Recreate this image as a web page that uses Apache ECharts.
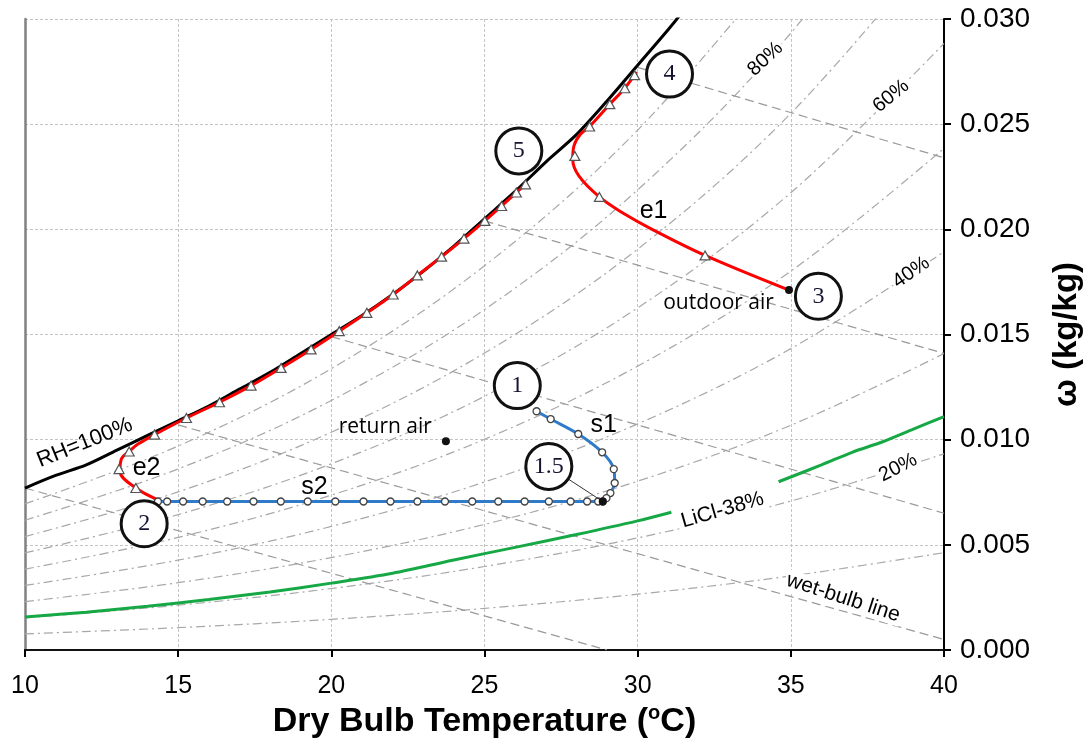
<!DOCTYPE html>
<html><head><meta charset="utf-8">
<script src="https://cdn.jsdelivr.net/npm/echarts@6/dist/echarts.min.js"></script>
<style>html,body{margin:0;padding:0;background:#fff}#c{width:1091px;height:748px}</style>
</head><body><div id="c"></div>
<script>
// ---------------- data ----------------
const xTickValues = [10, 15, 20, 25, 30, 35, 40];
const yTickLabels = ['0.000','0.005','0.010','0.015','0.020','0.025','0.030'];

// relative humidity lines (dash-dot), humidity ratio at rhTemps
const rhTemps = [10, 15, 20, 25, 30, 35, 40];
const rh10 = [0.000765, 0.001063, 0.001458, 0.001978, 0.002653, 0.003521, 0.004628];
const rh20 = [0.001531, 0.002130, 0.002923, 0.003969, 0.005329, 0.007082, 0.009325];
const rh30 = [0.002300, 0.003200, 0.004395, 0.005972, 0.008027, 0.010684, 0.014093];
const rh40 = [0.003070, 0.004274, 0.005874, 0.007988, 0.010749, 0.014328, 0.018933];
const rh50 = [0.003843, 0.005351, 0.007360, 0.010017, 0.013495, 0.018013, 0.023848];
const rh60 = [0.004617, 0.006433, 0.008853, 0.012060, 0.016264, 0.021742, 0.028839];
const rh70 = [0.005393, 0.007518, 0.010354, 0.014116, 0.019058, 0.025514, 0.033907];
const rh80 = [0.006171, 0.008607, 0.011861, 0.016184, 0.021876, 0.029331, 0.039055];
const rh90 = [0.006950, 0.009697, 0.013375, 0.018267, 0.024718, 0.033192];

// wet-bulb lines (dashed): [start T, start w, end T, end w]
const wb10 = [10, 0.0077, 29.0, 0.0];
const wb15 = [15, 0.0107, 40, 0.0005];
const wb20 = [20, 0.0149, 40, 0.0065];
const wb25 = [25, 0.0204, 40, 0.0141];
const wb30 = [30, 0.0277, 40, 0.0234];

// saturation curve RH=100%
const satT = [10, 11, 12, 13, 14, 15, 16, 17, 18, 19, 20, 21, 22, 23, 24, 25, 26, 27, 28, 29, 30, 31, 31.5];
const satW = [0.0077, 0.0083, 0.0088, 0.0095, 0.0102, 0.0109, 0.0116, 0.0124, 0.0132, 0.0141, 0.0150, 0.0159, 0.0169, 0.0180, 0.0192, 0.0205, 0.0218, 0.0232, 0.0245, 0.0261, 0.0278, 0.0295, 0.0304];

// LiCl-38% equilibrium line (gap where its label sits)
const liclT = [10, 12, 14, 16, 18, 20, 22, 24, 26, 28, 30, 31.1, null, 34.6, 36, 37, 38, 39, 40];
const liclW = [0.00157, 0.00180, 0.00208, 0.00240, 0.00276, 0.00318, 0.00365, 0.00428, 0.00488, 0.00549, 0.00614, 0.00655, null, 0.0080, 0.0088, 0.0094, 0.0099, 0.0105, 0.0111];

// process e2 (state 2 -> along saturation -> state 5)
const e2T = [14.34, 13.62, 13.1, 13.15, 13.4, 13.7, 14.23, 15.27, 16.35, 17.38, 18.36, 19.34, 20.26, 21.16, 22.02, 22.81, 23.6, 24.33, 25.01, 25.56, 26.04, 26.34];
const e2W = [0.00714, 0.0077, 0.0085, 0.0091, 0.00944, 0.0098, 0.01024, 0.01103, 0.01178, 0.01257, 0.01341, 0.01429, 0.01516, 0.01603, 0.0169, 0.01781, 0.0187, 0.01956, 0.0204, 0.02111, 0.02175, 0.02214];
const e2MarkT = [13.62, 13.07, 13.4, 14.23, 15.27, 16.35, 17.38, 18.36, 19.34, 20.26, 21.16, 22.02, 22.81, 23.6, 24.33, 25.01, 25.56, 26.04, 26.34];
const e2MarkW = [0.0077, 0.0086, 0.00944, 0.01024, 0.01103, 0.01178, 0.01257, 0.01341, 0.01429, 0.01516, 0.01603, 0.0169, 0.01781, 0.0187, 0.01956, 0.0204, 0.02111, 0.02175, 0.02214];

// process e1 (state 3 -> state 4)
const e1T = [34.94, 32.2, 30.47, 29.49, 28.75, 28.08, 27.88, 27.92, 28.13, 28.43, 29.09, 29.58, 29.9, 29.97];
const e1W = [0.01711, 0.01876, 0.0200, 0.0208, 0.02154, 0.02254, 0.02333, 0.02397, 0.02452, 0.02489, 0.02595, 0.02671, 0.02733, 0.02748];
const e1MarkT = [32.2, 28.75, 27.95, 28.43, 29.09, 29.58, 29.9];
const e1MarkW = [0.01876, 0.02154, 0.02349, 0.02489, 0.02595, 0.02671, 0.02733];

// process s1 (state 1 -> state 1.5) and s2 (state 1.5 -> state 2)
const s1T = [26.7, 27.16, 28.06, 28.84, 29.22, 29.25, 29.11, 28.98, 28.86];
const s1W = [0.01135, 0.01098, 0.01027, 0.0094, 0.0086, 0.00794, 0.00746, 0.00722, 0.00706];
const s2T = [28.71, 28.35, 27.81, 27.10, 26.31, 25.45, 24.6, 23.71, 22.81, 21.93, 21.05, 20.13, 19.23, 18.35, 17.46, 16.6, 15.8, 15.16, 14.64, 14.34];
const s2W = [0.00706, 0.00706, 0.00706, 0.00706, 0.00706, 0.00706, 0.00706, 0.00706, 0.00706, 0.00706, 0.00706, 0.00706, 0.00706, 0.00706, 0.00706, 0.00706, 0.00706, 0.00706, 0.00706, 0.00706];

// state points
const dotNames = ['outdoor', 'return', 'state1.5'];
const dotT = [34.94, 23.74, 28.86];
const dotW = [0.01711, 0.00992, 0.00706];

// numbered state callouts
const stateNames = ['1', '1.5', '2', '3', '4', '5'];
const stateT = [26.07, 27.10, 13.89, 35.90, 31.04, 26.12];
const stateW = [0.01257, 0.00873, 0.0060, 0.01682, 0.02738, 0.02373];

// text annotations
const noteTexts = ['outdoor air', 'return air', 'e1', 'e2', 's1', 's2', 'RH=100%', '80%', '60%', '40%', '20%', 'LiCl-38%', 'wet-bulb line'];
const noteT = [32.64, 21.76, 30.52, 13.97, 28.89, 19.45, 11.95, 34.17, 38.27, 38.93, 38.5, 32.77, 36.71];
const noteW = [0.01652, 0.01062, 0.02086, 0.00867, 0.01071, 0.00776, 0.00985, 0.0281, 0.02633, 0.01795, 0.00867, 0.00665, 0.00248];

// ---------------- chart ----------------
const zip = (xs, ys) => xs.map((x, i) => (x === null ? '-' : [x, ys[i]]));
const styles = {
  dashDot: { type: [9, 4, 2, 4], color: '#a8a8a8', width: 1.2 },
  dashed: { type: [9, 5], color: '#9a9a9a', width: 1.2 }
};
const noteStyle = {
  'outdoor air': { fontFamily: 'Open Sans', fontSize: 21, rotate: 0, bg: false },
  'return air': { fontFamily: 'Open Sans', fontSize: 21, rotate: 0, bg: false },
  'e1': { fontFamily: 'Liberation Sans', fontSize: 25, rotate: 0, bg: false },
  'e2': { fontFamily: 'Liberation Sans', fontSize: 25, rotate: 0, bg: false },
  's1': { fontFamily: 'Liberation Sans', fontSize: 25, rotate: 0, bg: false },
  's2': { fontFamily: 'Liberation Sans', fontSize: 25, rotate: 0, bg: false },
  'RH=100%': { fontFamily: 'Liberation Sans', fontSize: 22, rotate: 22, bg: false },
  '80%': { fontFamily: 'Liberation Sans', fontSize: 20, rotate: 43, bg: true },
  '60%': { fontFamily: 'Liberation Sans', fontSize: 20, rotate: 39, bg: true },
  '40%': { fontFamily: 'Liberation Sans', fontSize: 20, rotate: 35, bg: true },
  '20%': { fontFamily: 'Liberation Sans', fontSize: 20, rotate: 27, bg: true },
  'LiCl-38%': { fontFamily: 'Liberation Sans', fontSize: 21, rotate: 16, bg: true },
  'wet-bulb line': { fontFamily: 'Liberation Sans', fontSize: 21, rotate: -18, bg: true }
};

const series = [];
[rh10, rh20, rh30, rh40, rh50, rh60, rh70, rh80, rh90].forEach((arr, k) => {
  series.push({ type: 'line', name: 'rh' + (k + 1) * 10, data: zip(rhTemps.slice(0, arr.length), arr),
    smooth: 0.35, showSymbol: false, symbol: 'none', lineStyle: styles.dashDot, z: 1, silent: true });
});
[wb10, wb15, wb20, wb25, wb30].forEach((w, k) => {
  series.push({ type: 'line', name: 'wb' + k, data: [[w[0], w[1]], [w[2], w[3]]],
    symbol: 'none', lineStyle: styles.dashed, z: 1, silent: true });
});
series.push({ type: 'line', name: 'LiCl', data: zip(liclT, liclW), smooth: 0.3, symbol: 'none',
  connectNulls: false, lineStyle: { color: '#17a846', width: 3 }, z: 2 });
series.push({ type: 'line', name: 'sat', data: zip(satT, satW), smooth: 0.3, symbol: 'none',
  lineStyle: { color: '#000', width: 3 }, z: 3 });
series.push({ type: 'line', name: 'e2', data: zip(e2T, e2W), smooth: 0.35, symbol: 'none',
  lineStyle: { color: '#ff0000', width: 3 }, z: 4 });
series.push({ type: 'line', name: 'e1', data: zip(e1T, e1W), smooth: 0.35, symbol: 'none',
  lineStyle: { color: '#ff0000', width: 3 }, z: 4 });
series.push({ type: 'line', name: 's', data: zip(s1T.concat(s2T), s1W.concat(s2W)), smooth: 0.3, symbol: 'none',
  lineStyle: { color: '#2f7bc9', width: 3 }, z: 4 });
series.push({ type: 'scatter', name: 'triangles', data: zip(e2MarkT.concat(e1MarkT), e2MarkW.concat(e1MarkW)),
  symbol: 'triangle', symbolSize: [10, 9], itemStyle: { color: '#fff', borderColor: '#555', borderWidth: 1.2, opacity: 1 }, z: 5 });
series.push({ type: 'scatter', name: 'circles', data: zip(s1T.concat(s2T), s1W.concat(s2W)),
  symbol: 'circle', symbolSize: 7, itemStyle: { color: '#fff', borderColor: '#444', borderWidth: 1.3, opacity: 1 }, z: 5 });
series.push({ type: 'line', name: 'leader', data: [[stateT[1], stateW[1]], [dotT[2], dotW[2]]], symbol: 'none',
  lineStyle: { color: '#333', width: 1 }, z: 6 });
series.push({ type: 'scatter', name: 'dots', data: zip(dotT, dotW), symbol: 'circle', symbolSize: 8,
  itemStyle: { color: '#111', opacity: 1 }, z: 6 });
series.push({ type: 'scatter', name: 'states', data: stateNames.map((n, i) => ({ name: n, value: [stateT[i], stateW[i]] })),
  symbol: 'circle', symbolSize: 46, itemStyle: { color: '#fff', borderColor: '#111', borderWidth: 3, opacity: 1 },
  label: { show: true, position: 'inside', formatter: '{b}', fontFamily: 'Liberation Serif', fontSize: 24, color: '#141430' }, z: 7 });
series.push({ type: 'scatter', name: 'notes', symbolSize: 1, itemStyle: { color: 'rgba(0,0,0,0)', opacity: 1 }, z: 8,
  data: noteTexts.map((t, i) => {
    const s = noteStyle[t];
    return { name: t, value: [noteT[i], noteW[i]],
      label: { show: true, position: 'inside', formatter: '{b}', rotate: s.rotate, fontFamily: s.fontFamily,
        fontSize: s.fontSize, color: '#000', opacity: 1, backgroundColor: s.bg ? '#fff' : 'transparent', padding: s.bg ? [0, 2] : 0 } };
  }) });

const gridLine = { show: true, lineStyle: { color: '#c4c4c4', type: [3, 2], width: 1 } };
const option = {
  animation: false,
  backgroundColor: '#fff',
  grid: { left: 25, right: 145, top: 19, bottom: 98, containLabel: false },
  xAxis: [
    { type: 'value', min: 10, max: 40, interval: 5, position: 'bottom',
      axisLine: { lineStyle: { color: '#000', width: 2 } },
      axisTick: { show: true, length: 7, inside: false, lineStyle: { color: '#000', width: 2 } },
      axisLabel: { fontFamily: 'Liberation Sans', fontSize: 25, color: '#000', margin: 24,
        formatter: v => (xTickValues.indexOf(v) >= 0 ? String(v) : '') },
      splitLine: gridLine,
      name: '{a|Dry Bulb Temperature (}{s|o}{a|C)}', nameLocation: 'middle', nameGap: 52,
      nameTextStyle: { rich: {
        a: { fontFamily: 'Liberation Sans', fontWeight: 'bold', fontSize: 34, color: '#000' },
        s: { fontFamily: 'Liberation Sans', fontWeight: 'bold', fontSize: 20, color: '#000', verticalAlign: 'top', padding: [0, 0, 16, 0] } } } },
    { type: 'value', min: 10, max: 40, interval: 5, position: 'top',
      axisLine: { lineStyle: { color: '#111', width: 2 } }, axisTick: { show: false },
      axisLabel: { show: false }, splitLine: { show: false } }
  ],
  yAxis: [
    { type: 'value', min: 0, max: 0.03, interval: 0.005, position: 'right',
      axisLine: { show: true, lineStyle: { color: '#000', width: 2 } },
      axisTick: { show: true, length: 7, lineStyle: { color: '#000', width: 2 } },
      axisLabel: { fontFamily: 'Liberation Sans', fontSize: 28, color: '#000', margin: 16,
        formatter: v => yTickLabels[Math.round(v / 0.005)] },
      splitLine: gridLine,
      name: 'ω (kg/kg)', nameLocation: 'middle', nameRotate: 90, nameGap: 106,
      nameTextStyle: { fontFamily: 'Liberation Sans', fontWeight: 'bold', fontSize: 33, color: '#000' } },
    { type: 'value', min: 0, max: 0.03, interval: 0.005, position: 'left',
      axisLine: { show: true, lineStyle: { color: '#808080', width: 2.5 } }, axisTick: { show: false },
      axisLabel: { show: false }, splitLine: { show: false } }
  ],
  series: series
};
const chart = echarts.init(document.getElementById('c'));
chart.setOption(option);
</script></body></html>
